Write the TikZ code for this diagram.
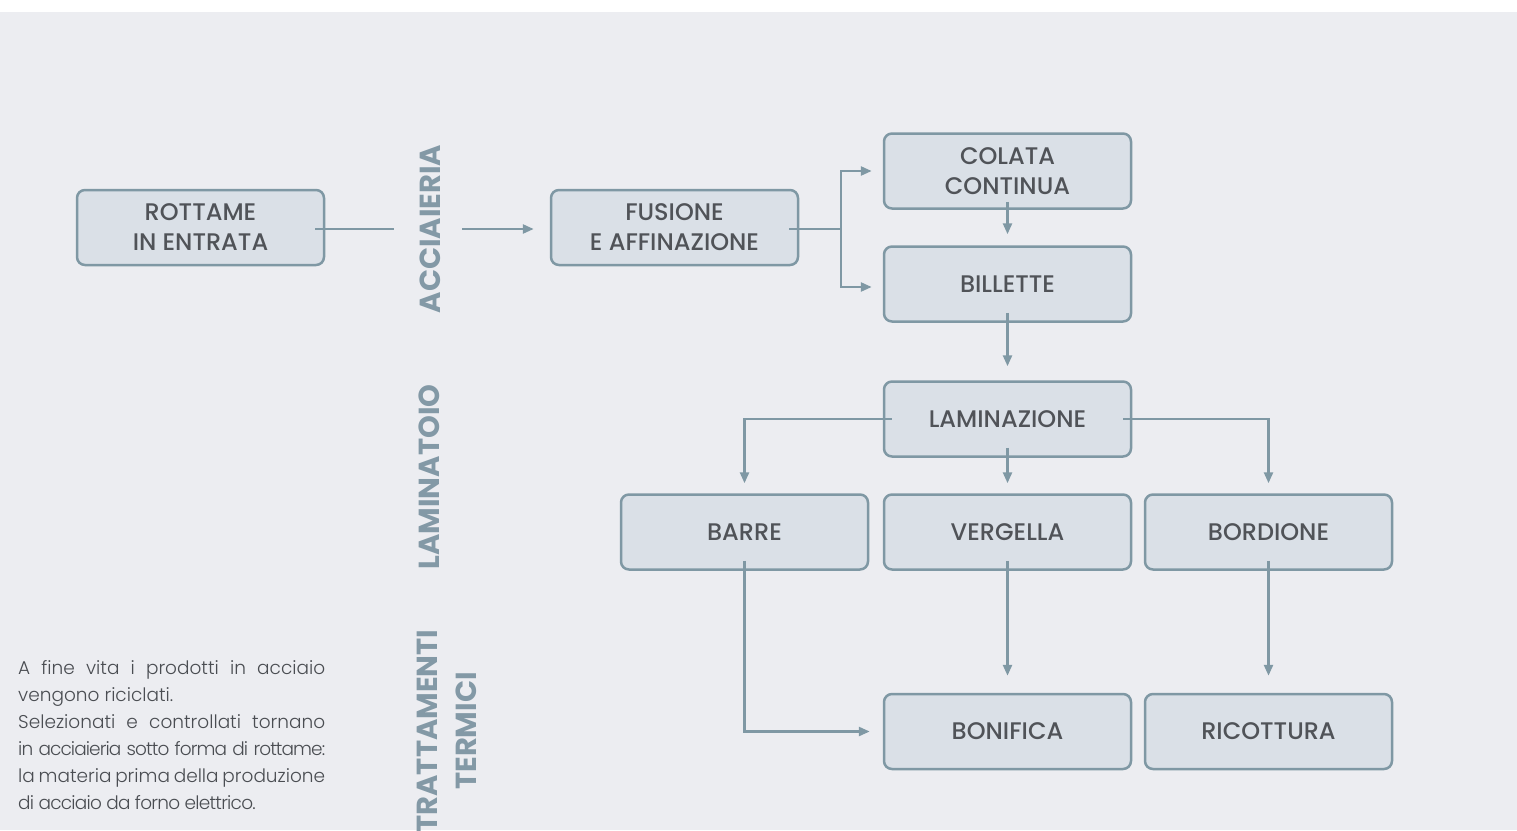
\documentclass[tikz,border=0pt]{standalone}
\usepackage{fontspec}
\setmainfont{Poppins}
\IfFontExistsTF{Poppins Medium}{\newfontfamily\boxfont{Poppins Medium}}{\newfontfamily\boxfont{Poppins}[FakeBold=0.6]}
\IfFontExistsTF{Poppins Light}{\newfontfamily\parafont{Poppins Light}}{\newfontfamily\parafont{Poppins}}
\usetikzlibrary{arrows.meta,calc}
\definecolor{bg}{HTML}{ECEDF1}
\definecolor{boxfill}{HTML}{DAE0E7}
\definecolor{edge}{HTML}{7F98A4}
\definecolor{boxtext}{HTML}{505358}
\definecolor{lbl}{HTML}{8399A6}
\definecolor{para}{HTML}{4A4D52}
\newcommand{\jline}[1]{\hbox to 307pt{#1}}
\begin{document}
\begin{tikzpicture}[x=1pt,y=-1pt,
 stepbox/.style={draw=edge, fill=boxfill, line width=2.5pt, rounded corners=8pt, minimum width=247pt, minimum height=75pt, inner sep=0pt, align=center, text=boxtext, font=\boxfont\fontsize{24}{30}\selectfont},
 conn/.style={draw=edge, line width=2.5pt},
 arr/.style={conn, -{Triangle[length=11pt,width=9pt]}},
 sect/.style={rotate=90, text=lbl, font=\fontsize{29}{39}\selectfont\bfseries, align=center, inner sep=0pt}]
\useasboundingbox (0,0) rectangle (1517,830);
\fill[white] (0,0) rectangle (1517,12);
\fill[bg] (0,12) rectangle (1517,830);

\node[stepbox] (rot) at (200.5,227.5) {ROTTAME\\IN ENTRATA};
\node[stepbox] (fus) at (674.5,227.5) {FUSIONE\\E AFFINAZIONE};
\node[stepbox] (col) at (1007.5,171) {COLATA\\CONTINUA};
\node[stepbox] (bil) at (1007.5,284) {BILLETTE};
\node[stepbox] (lam) at (1007.5,419) {LAMINAZIONE};
\node[stepbox] (bar) at (744.5,532) {BARRE};
\node[stepbox] (ver) at (1007.5,532) {VERGELLA};
\node[stepbox] (bor) at (1268.5,532) {BORDIONE};
\node[stepbox] (bon) at (1007.5,731.5) {BONIFICA};
\node[stepbox] (ric) at (1268.5,731.5) {RICOTTURA};

\node[sect] (acc) at (430,229) {ACCIAIERIA};
\node[sect] (lmt) at (429,477) {LAMINATOIO};
\node[sect] (tt) at (447,731) {TRATTAMENTI\\TERMICI};

\coordinate (g1) at (394,229);
\coordinate (g2) at (462,229);
\coordinate (fj) at (841,229);
\draw[conn] ([xshift=-10pt,yshift=-1.5pt]rot.east) -- (g1);
\draw[arr] (g2) -- ([xshift=-16pt,yshift=-1.5pt]fus.west);
\draw[conn] ([xshift=-10pt,yshift=-1.5pt]fus.east) -- (fj);
\draw[arr] (fj) |- ([xshift=-11pt]col.west);
\draw[arr] (fj) |- ([xshift=-11pt,yshift=-3pt]bil.west);
\draw[arr] ([yshift=8pt]col.south) -- ([yshift=11pt]bil.north);
\draw[arr] ([yshift=10pt]bil.south) -- ([yshift=14pt]lam.north);
\draw[arr] ([xshift=9pt]lam.west) -| ([yshift=10pt]bar.north);
\draw[arr] ([xshift=-9pt]lam.east) -| ([yshift=10pt]bor.north);
\draw[arr] ([yshift=10pt]lam.south) -- ([yshift=10pt]ver.north);
\draw[arr] ([yshift=10pt]bar.south) |- ([xshift=-13pt]bon.west);
\draw[arr] ([yshift=10pt]ver.south) -- ([yshift=17pt]bon.north);
\draw[arr] ([yshift=10pt]bor.south) -- ([yshift=17pt]ric.north);

\node[anchor=base west, inner sep=0pt, text=para, font=\parafont\fontsize{18.5}{27}\selectfont, align=left] (txt) at (18,809)
{\jline{A fine vita i prodotti in acciaio}\\
vengono riciclati.\\
\jline{Selezionati e controllati tornano}\\
\jline{\addfontfeature{LetterSpace=-5}in acciaieria sotto forma di rottame:}\\
\jline{la materia prima della produzione}\\
{\addfontfeature{LetterSpace=-4}di acciaio da forno elettrico.}};
\end{tikzpicture}
\end{document}
